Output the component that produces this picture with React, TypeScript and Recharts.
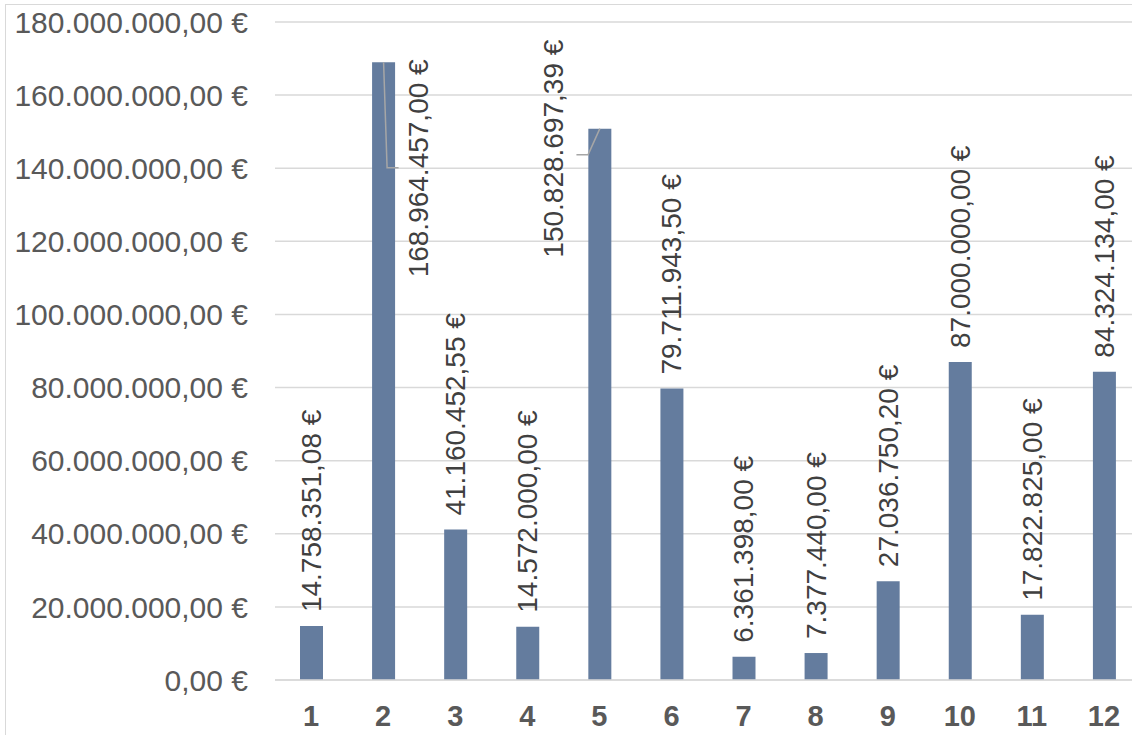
import React from "react";
import { BarChart, Bar, XAxis, YAxis, CartesianGrid, LabelList } from "recharts";

const categories = ["1", "2", "3", "4", "5", "6", "7", "8", "9", "10", "11", "12"];
const amounts = [
  14758351.08, 168964457.0, 41160452.55, 14572000.0, 150828697.39, 79711943.5,
  6361398.0, 7377440.0, 27036750.2, 87000000.0, 17822825.0, 84324134.0,
];
const yTicks = [0, 20000000, 40000000, 60000000, 80000000, 100000000, 120000000, 140000000, 160000000, 180000000];

const data = categories.map((c, i) => ({ name: c, value: amounts[i] }));

const BAR_COLOR = "#647c9e";
const GRID = "#d9d9d9";
const FONT = "'Liberation Sans', Arial, sans-serif";

function fmtEuro(v: number): string {
  const neg = v < 0;
  const abs = Math.abs(v);
  const cents = Math.round(abs * 100);
  const intPart = Math.floor(cents / 100).toString();
  const dec = (cents % 100).toString().padStart(2, "0");
  let out = "";
  for (let i = 0; i < intPart.length; i++) {
    const fromEnd = intPart.length - i;
    out += intPart[i];
    if (fromEnd > 1 && (fromEnd - 1) % 3 === 0) out += ".";
  }
  return (neg ? "-" : "") + out + "," + dec + " €";
}

// label placement tweaks (styling only), relative to bar center / bar top
const labelShift: Record<number, { dx: number; below: number; leader: [number, number][] }> = {
  1: { dx: 35, below: 215, leader: [[0, 0], [3.5, 105.5], [15, 105.5]] },
  4: { dx: -46, below: 129, leader: [[0, 0], [-11.7, 26], [-23.4, 26]] },
};

const renderLabel = (props: any) => {
  const { x, y, width, value, index } = props;
  const cx = Number(x) + Number(width) / 2;
  const top = Number(y);
  const shift = labelShift[index];
  let lx = cx;
  let ly = top - 14;
  let leader: React.ReactNode = null;
  if (shift) {
    lx = cx + shift.dx;
    ly = top + shift.below;
    const pts = shift.leader.map(([a, b]) => `${cx + a},${top + b}`).join(" ");
    leader = <polyline points={pts} fill="none" stroke="#a6a6a6" strokeWidth={1.5} />;
  }
  return (
    <g>
      {leader}
      <text
        x={lx}
        y={ly}
        transform={`rotate(-90 ${lx} ${ly})`}
        textAnchor="start"
        dominantBaseline="central"
        fontFamily={FONT}
        fontSize={28}
        fill="#404040"
      >
        {fmtEuro(Number(value))}
      </text>
    </g>
  );
};

export default function App() {
  return (
    <div style={{ position: "absolute", left: 0, top: 0, width: 1132, height: 735, overflow: "hidden", background: "#fff" }}>
      <div
        style={{
          position: "absolute",
          left: 5,
          top: 4,
          width: 1200,
          height: 800,
          border: `1.5px solid ${GRID}`,
        }}
      />
      <div style={{ position: "absolute", left: 0, top: 0 }}>
        <BarChart
          width={1160}
          height={760}
          data={data}
          margin={{ top: 22, right: 20, left: 0, bottom: 0 }}
          barSize={23}
        >
          <CartesianGrid vertical={false} stroke={GRID} strokeWidth={1.5} />
          <XAxis
            dataKey="name"
            axisLine={{ stroke: GRID, strokeWidth: 1.5 }}
            tickLine={false}
            tickSize={0}
            tickMargin={25}
            height={80}
            interval={0}
            tick={{ fontFamily: FONT, fontSize: 29, fontWeight: "bold", fill: "#595959" }}
          />
          <YAxis
            domain={[0, 180000000]}
            ticks={yTicks}
            axisLine={false}
            tickLine={false}
            tickSize={0}
            tickMargin={27}
            width={275}
            interval={0}
            tickFormatter={(v: number) => fmtEuro(v)}
            tick={{ fontFamily: FONT, fontSize: 30, fill: "#595959" }}
          />
          <Bar dataKey="value" fill={BAR_COLOR} isAnimationActive={false}>
            <LabelList dataKey="value" content={renderLabel} />
          </Bar>
        </BarChart>
      </div>
    </div>
  );
}
